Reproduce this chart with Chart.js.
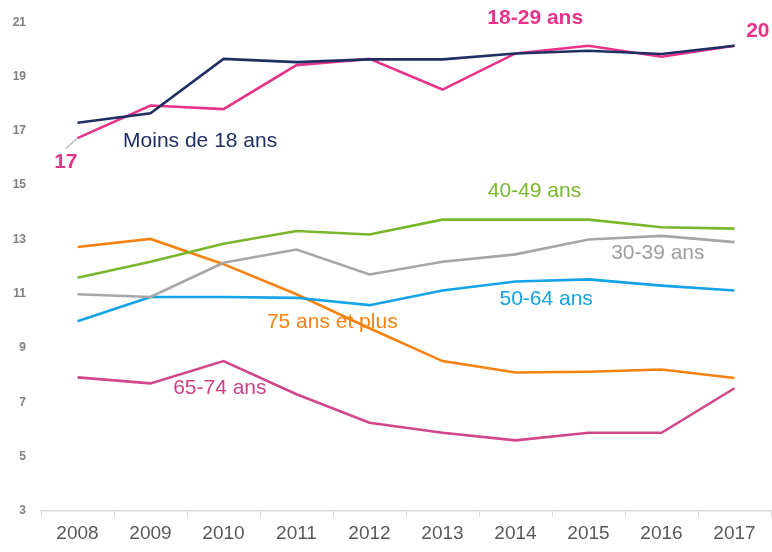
<!DOCTYPE html>
<html>
<head>
<meta charset="utf-8">
<script src="https://cdn.jsdelivr.net/npm/chart.js@4"></script>
<style>
  body { margin: 0; background: #fff; }
  canvas { display: block; }
</style>
</head>
<body>
<canvas id="myChart" width="772" height="552"></canvas>
<script>
const years = ["2008", "2009", "2010", "2011", "2012", "2013", "2014", "2015", "2016", "2017"];
const yTicks = [3, 5, 7, 9, 11, 13, 15, 17, 19, 21];

const moins18 = [17.3, 17.65, 19.65, 19.53, 19.63, 19.63, 19.85, 19.95, 19.83, 20.13];
const ans18_29 = [16.73, 17.93, 17.8, 19.42, 19.65, 18.52, 19.85, 20.13, 19.73, 20.13];
const ans30_39 = [10.98, 10.88, 12.14, 12.63, 11.71, 12.18, 12.45, 13.0, 13.13, 12.9];
const ans40_49 = [11.59, 12.18, 12.84, 13.31, 13.18, 13.73, 13.73, 13.73, 13.45, 13.4];
const ans50_64 = [9.99, 10.88, 10.88, 10.85, 10.58, 11.12, 11.45, 11.53, 11.3, 11.12];
const ans65_74 = [7.92, 7.7, 8.52, 7.3, 6.25, 5.88, 5.6, 5.88, 5.88, 7.52];
const ans75plus = [12.72, 13.02, 12.09, 10.98, 9.73, 8.52, 8.1, 8.13, 8.21, 7.9];

// text labels placed in data units (category index, value)
const annotations = [
  { text: "Moins de 18 ans", x: 1.68, y: 16.6, color: "#1f2f63", bold: false },
  { text: "18-29 ans", x: 6.27, y: 21.16, color: "#e8338a", bold: true },
  { text: "20", x: 9.32, y: 20.68, color: "#e8338a", bold: true },
  { text: "17", x: -0.16, y: 15.83, color: "#e8338a", bold: true },
  { text: "40-49 ans", x: 6.26, y: 14.76, color: "#78b72c", bold: false },
  { text: "30-39 ans", x: 7.95, y: 12.49, color: "#9d9d9d", bold: false },
  { text: "50-64 ans", x: 6.42, y: 10.79, color: "#13a3e6", bold: false },
  { text: "75 ans et plus", x: 3.49, y: 9.95, color: "#f5820f", bold: false },
  { text: "65-74 ans", x: 1.95, y: 7.52, color: "#cf3f86", bold: false },
];

const labelPlugin = {
  id: "lineLabels",
  afterDatasetsDraw(chart) {
    const { ctx, scales: { x, y } } = chart;
    ctx.save();
    // leader line from "17" to first point of 18-29
    ctx.strokeStyle = "#bfbfbf";
    ctx.lineWidth = 1.5;
    ctx.beginPath();
    ctx.moveTo(x.getPixelForValue(-0.16), y.getPixelForValue(16.35));
    ctx.lineTo(x.getPixelForValue(0), y.getPixelForValue(ans18_29[0]));
    ctx.stroke();

    ctx.textAlign = "center";
    ctx.textBaseline = "middle";
    annotations.forEach((a) => {
      ctx.font = a.bold ? "bold 21px 'Liberation Sans', Arial" : "21px 'Liberation Sans', Arial";
      ctx.fillStyle = a.color;
      ctx.fillText(a.text, x.getPixelForValue(a.x), y.getPixelForValue(a.y));
    });
    ctx.restore();
  },
};

function line(label, data, color) {
  return {
    label,
    data,
    borderColor: color,
    backgroundColor: color,
    borderWidth: 2.6,
    pointRadius: 0,
    tension: 0,
  };
}

const ctx = document.getElementById("myChart").getContext("2d");
new Chart(ctx, {
  type: "line",
  data: {
    labels: years,
    datasets: [
      line("Moins de 18 ans", moins18, "#1f2f63"),
      line("18-29 ans", ans18_29, "#e8338a"),
      line("30-39 ans", ans30_39, "#a6a6a6"),
      line("40-49 ans", ans40_49, "#78b72c"),
      line("50-64 ans", ans50_64, "#13a3e6"),
      line("65-74 ans", ans65_74, "#d2468a"),
      line("75 ans et plus", ans75plus, "#f5820f"),
    ],
  },
  options: {
    responsive: false,
    animation: false,
    layout: { padding: { top: 21, right: 1, bottom: 0, left: 0 } },
    plugins: {
      legend: { display: false },
      tooltip: { enabled: false },
    },
    scales: {
      x: {
        offset: true,
        grid: {
          offset: true,
          drawOnChartArea: false,
          drawTicks: true,
          tickLength: 6,
          color: "#d9d9d9",
        },
        border: { color: "#d9d9d9", width: 1.5 },
        ticks: {
          color: "#595959",
          font: { family: "'Liberation Sans', Arial", size: 19 },
          padding: 5,
        },
        afterFit(scale) { scale.height = 41; },
      },
      y: {
        min: 3,
        max: 21,
        afterBuildTicks(scale) { scale.ticks = yTicks.map((v) => ({ value: v })); },
        grid: { display: false, drawTicks: false },
        border: { display: false },
        ticks: {
          color: "#7f7f7f",
          font: { family: "'Liberation Sans', Arial", size: 12, weight: "bold" },
          padding: 15,
        },
        afterFit(scale) { scale.width = 41; },
      },
    },
  },
  plugins: [labelPlugin],
});
</script>
</body>
</html>
